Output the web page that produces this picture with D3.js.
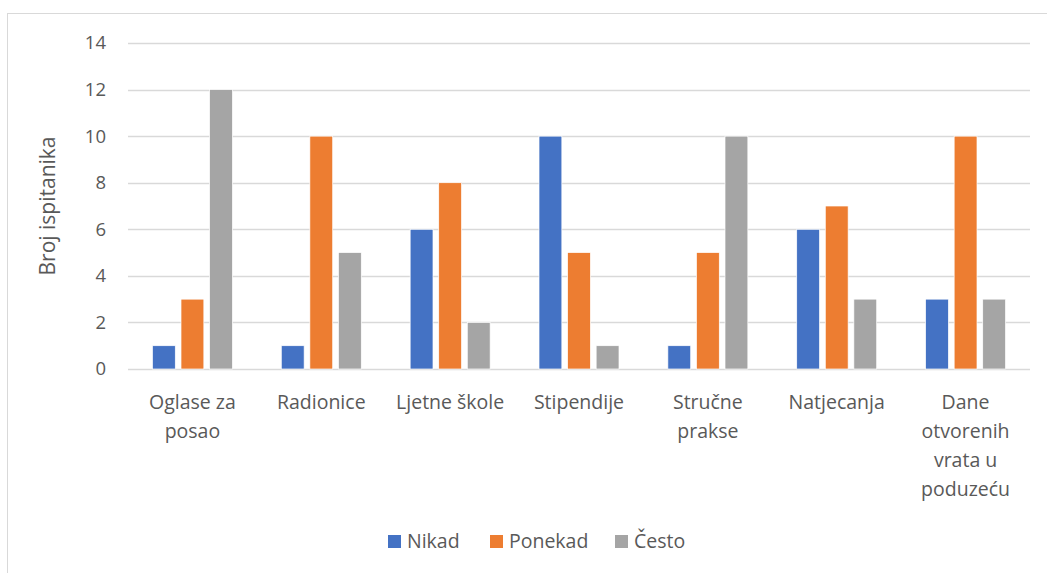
<!DOCTYPE html>
<html>
<head>
<meta charset="utf-8">
<script src="https://cdn.jsdelivr.net/npm/d3@7"></script>
<style>
  body { margin: 0; background: #fff; }
  svg text { font-family: "Open Sans", "Noto Sans", sans-serif; fill: #595959; }
</style>
</head>
<body>
<svg id="chart"></svg>
<script>
// Data
const categories = ['Oglase za\nposao', 'Radionice', 'Ljetne škole', 'Stipendije', 'Stručne\nprakse', 'Natjecanja', 'Dane\notvorenih\nvrata u\npoduzeću'];
const seriesNames = ['Nikad', 'Ponekad', 'Često'];
const nikad = [1, 1, 6, 10, 1, 6, 3];
const ponekad = [3, 10, 8, 5, 5, 7, 10];
const cesto = [12, 5, 2, 1, 10, 3, 3];
const yTicks = [0, 2, 4, 6, 8, 10, 12, 14];

const seriesValues = [nikad, ponekad, cesto];
const colors = ['#4472C4', '#ED7D31', '#A5A5A5'];

const width = 1047, height = 573;
const margin = { top: 43, right: 17, bottom: 204, left: 128 };

const svg = d3.select('#chart')
    .attr('width', width)
    .attr('height', height);

// outer chart frame (cut off at right and bottom like the reference)
svg.append('rect')
    .attr('x', 7.5)
    .attr('y', 13.5)
    .attr('width', width + 20)
    .attr('height', height + 20)
    .attr('fill', 'none')
    .attr('stroke', '#D9D9D9')
    .attr('stroke-width', 1);

const x = d3.scaleBand()
    .domain(categories)
    .range([margin.left, width - margin.right]);

const xInner = d3.scaleBand()
    .domain(seriesNames)
    .range([0, 80])
    .paddingInner(0.2);

const y = d3.scaleLinear()
    .domain([0, 14])
    .range([height - margin.bottom, margin.top]);

// gridlines
svg.append('g')
    .selectAll('line')
    .data(yTicks)
    .enter().append('line')
    .attr('x1', margin.left)
    .attr('x2', width - margin.right)
    .attr('y1', d => Math.round(y(d)) + 0.5)
    .attr('y2', d => Math.round(y(d)) + 0.5)
    .attr('stroke', '#D9D9D9')
    .attr('stroke-width', 1.5);

// y tick labels
const yAxis = d3.axisLeft(y).tickValues(yTicks).tickSize(0).tickPadding(22);
const yg = svg.append('g')
    .attr('transform', `translate(${margin.left}, 0)`)
    .call(yAxis);
yg.select('.domain').remove();
yg.selectAll('text')
    .style('font-size', '18.5px')
    .attr('fill', '#595959');

// bars
const groups = svg.append('g')
    .selectAll('g')
    .data(categories)
    .enter().append('g')
    .attr('transform', d => `translate(${x(d) + (x.bandwidth() - 80) / 2}, 0)`);

groups.selectAll('rect')
    .data((d, i) => seriesNames.map((s, j) => ({ series: s, value: seriesValues[j][i], color: colors[j] })))
    .enter().append('rect')
    .attr('x', d => xInner(d.series))
    .attr('width', xInner.bandwidth())
    .attr('y', d => y(d.value))
    .attr('height', d => y(0) - y(d.value))
    .attr('fill', d => d.color)
    .attr('stroke', '#fff')
    .attr('stroke-width', 0.7);

// x category labels (multi-line)
const xLabels = svg.append('g')
    .selectAll('text')
    .data(categories)
    .enter().append('text')
    .attr('text-anchor', 'middle')
    .attr('x', d => x(d) + x.bandwidth() / 2)
    .attr('y', y(0) + 40)
    .style('font-size', '19.5px');

xLabels.selectAll('tspan')
    .data(d => d.split('\n'))
    .enter().append('tspan')
    .attr('x', function() { return d3.select(this.parentNode).attr('x'); })
    .attr('dy', (d, i) => i === 0 ? 0 : 29)
    .text(d => d);

// y axis title
svg.append('text')
    .attr('transform', `translate(55, ${(y(0) + y(14)) / 2}) rotate(-90)`)
    .attr('text-anchor', 'middle')
    .style('font-size', '21px')
    .text('Broj ispitanika');

// legend
const legendX = [388, 490, 615];
const legend = svg.append('g')
    .selectAll('g')
    .data(seriesNames)
    .enter().append('g')
    .attr('transform', (d, i) => `translate(${legendX[i]}, 535)`);

legend.append('rect')
    .attr('width', 13)
    .attr('height', 13)
    .attr('fill', (d, i) => colors[i]);

legend.append('text')
    .attr('x', 19)
    .attr('y', 13)
    .style('font-size', '19.5px')
    .text(d => d);
</script>
</body>
</html>
